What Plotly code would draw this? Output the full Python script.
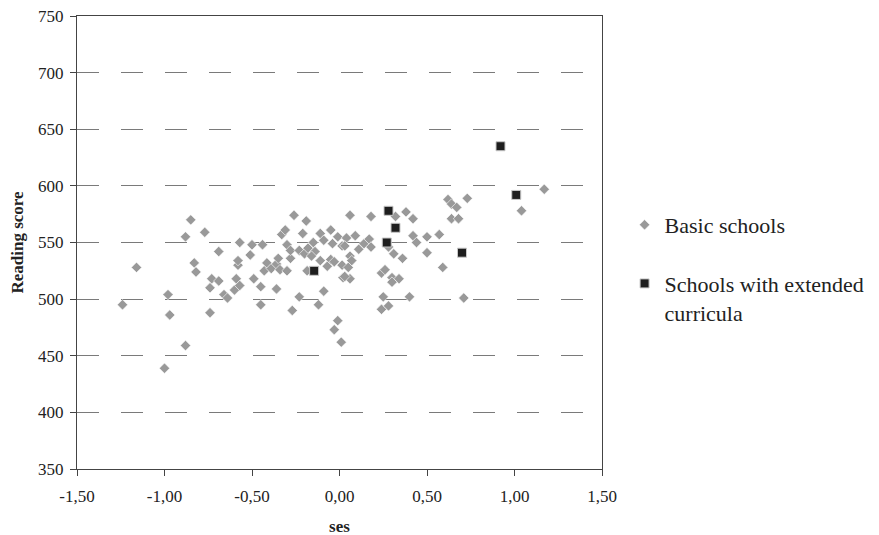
import plotly.graph_objects as go

basic_ses = [-1.24, -1.16, -1.00, -0.98, -0.97, -0.88, -0.88, -0.85, -0.83, -0.82,
             -0.77, -0.74, -0.73, -0.74, -0.69, -0.69, -0.66, -0.64, -0.60, -0.59,
             -0.57, -0.58, -0.58, -0.57, -0.51, -0.50, -0.49, -0.45, -0.45, -0.44,
             -0.43, -0.415, -0.39, -0.36, -0.36, -0.35, -0.34, -0.33, -0.31, -0.30,
             -0.30, -0.28, -0.28, -0.27, -0.26, -0.23, -0.23, -0.21, -0.20, -0.19,
             -0.18, -0.185, -0.15, -0.14, -0.16, -0.12, -0.11, -0.11, -0.09, -0.09,
             -0.07, -0.05, -0.04, -0.05, -0.03, -0.01, -0.01, -0.03, 0.01, 0.02,
             0.015, 0.015, 0.06, 0.04, 0.03, 0.06, 0.07, 0.05, 0.06, 0.03,
             0.09, 0.11, 0.14, 0.17, 0.18, 0.18, 0.32, 0.38, 0.42, 0.42,
             0.44, 0.50, 0.50, 0.57, 0.59, 0.31, 0.36, 0.28, 0.24, 0.26,
             0.30, 0.34, 0.30, 0.25, 0.24, 0.28, 0.40, 0.62, 0.64, 0.67,
             0.73, 0.64, 0.68, 0.71, 1.04, 1.17]
basic_score = [495, 528, 439, 504, 486, 459, 555, 570, 532, 524,
               559, 488, 518, 510, 542, 516, 504, 501, 508, 518,
               512, 530, 534, 550, 539, 548, 518, 511, 495, 548,
               525, 532, 527, 509, 531, 536, 526, 557, 561, 548,
               525, 536, 543, 490, 574, 502, 543, 558, 540, 569,
               545, 525, 550, 542, 538, 495, 558, 534, 552, 507,
               529, 561, 549, 535, 533, 555, 481, 473, 462, 519,
               547, 530, 574, 554, 547, 538, 534, 528, 518, 520,
               556, 544, 549, 553, 546, 573, 573, 577, 571, 556,
               550, 555, 541, 557, 528, 540, 536, 546, 523, 526,
               519, 518, 515, 502, 491, 494, 502, 588, 584, 581,
               589, 571, 571, 501, 578, 597]

ext_ses = [-0.145, 0.28, 0.32, 0.27, 0.70, 0.92, 1.01]
ext_score = [525, 578, 563, 550, 541, 635, 592]

x_ticks = [-1.5, -1.0, -0.5, 0.0, 0.5, 1.0, 1.5]
x_tick_labels = ["-1,50", "-1,00", "-0,50", "0,00", "0,50", "1,00", "1,50"]
y_ticks = [350, 400, 450, 500, 550, 600, 650, 700, 750]

FONT = "Liberation Serif"

fig = go.Figure()
fig.add_trace(go.Scatter(
    x=basic_ses, y=basic_score, mode="markers", name="Basic schools",
    marker=dict(symbol="diamond", size=8, color="#999999",
                line=dict(color="white", width=0.6)),
    legendgroup="a",
))
fig.add_trace(go.Scatter(
    x=ext_ses, y=ext_score, mode="markers",
    name="Schools with extended<br>curricula",
    marker=dict(symbol="square", size=9, color="#1e1e1e",
                line=dict(color="#c8c8c8", width=1)),
    legendgroup="b",
))

fig.update_layout(
    width=879, height=535,
    paper_bgcolor="white", plot_bgcolor="white",
    margin=dict(l=69, r=285, t=8, b=74),
    font=dict(family=FONT, size=17, color="#222"),
    showlegend=True,
    legend=dict(x=1.043, y=0.585, xanchor="left", yanchor="top",
                font=dict(family=FONT, size=22, color="#222"),
                valign="top", tracegroupgap=27, itemsizing="trace"),
    xaxis=dict(range=[-1.5, 1.5], tickvals=x_ticks, ticktext=x_tick_labels,
               showgrid=False, zeroline=False, showline=True, linecolor="#444",
               linewidth=1, mirror=True, ticks="outside", ticklen=6,
               tickcolor="#444", automargin=False, ticklabelstandoff=6,
               ticklabeloverflow="allow",
               title=dict(text="<b>ses</b>", font=dict(family=FONT, size=17),
                          standoff=14)),
    yaxis=dict(range=[350, 750], tickvals=y_ticks, showgrid=True,
               gridcolor="#7a7a7a", gridwidth=1, griddash="22px,22px",
               zeroline=False, showline=True, linecolor="#444", linewidth=1,
               mirror=True, ticks="outside", ticklen=6, tickcolor="#444",
               automargin=False, ticklabeloverflow="allow", ticklabelstandoff=3,
               title=dict(text="<b>Reading score</b>",
                          font=dict(family=FONT, size=17), standoff=10)),
)

fig.write_html("out.html")
